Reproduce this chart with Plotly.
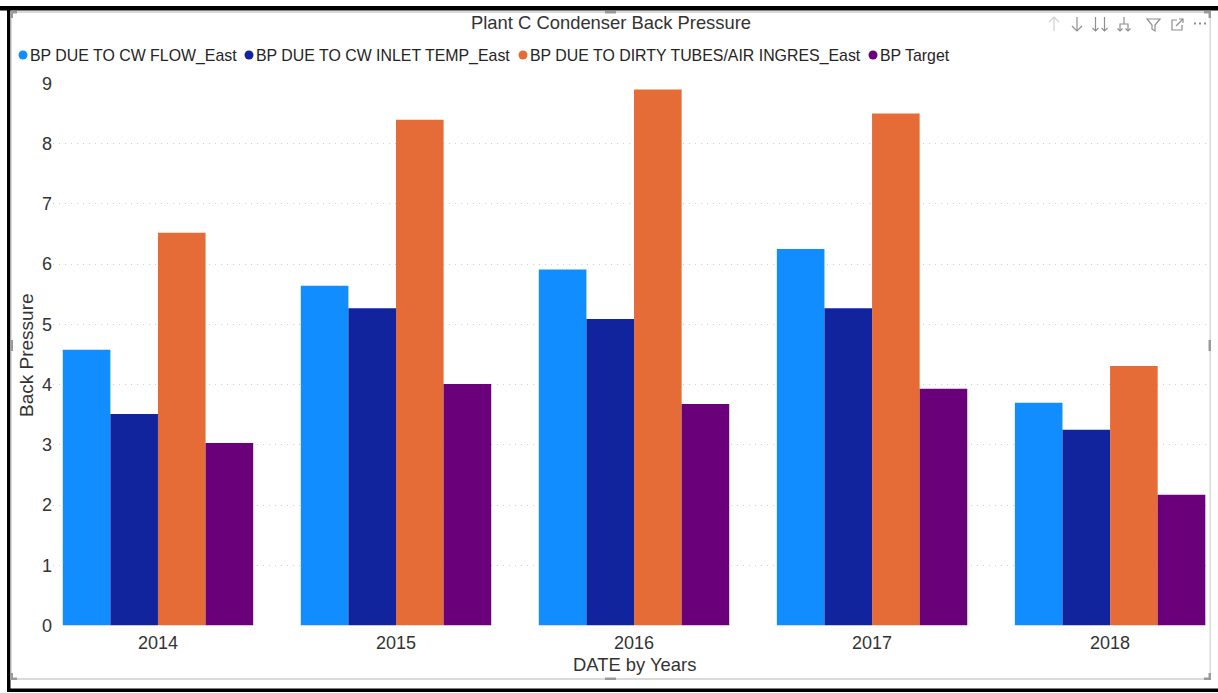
import plotly.graph_objects as go

W, H = 1218, 693

years = ["2014", "2015", "2016", "2017", "2018"]
cw_flow = [4.58, 5.64, 5.91, 6.25, 3.70]
cw_inlet = [3.51, 5.27, 5.09, 5.27, 3.25]
dirty_tubes = [6.52, 8.40, 8.90, 8.50, 4.31]
bp_target = [3.03, 4.01, 3.68, 3.93, 2.17]

series_names = [
    "BP DUE TO CW FLOW_East",
    "BP DUE TO CW INLET TEMP_East",
    "BP DUE TO DIRTY TUBES/AIR INGRES_East",
    "BP Target",
]
series_values = [cw_flow, cw_inlet, dirty_tubes, bp_target]
series_colors = ["#118DFF", "#12239E", "#E66C37", "#6B007B"]
legend_dot_x = [23, 249, 523, 873]

FONT = "Liberation Sans, Arial, sans-serif"
TEXT = "#333333"
FRAME = "#DADADA"
HANDLE = "#9A9A9A"
ICON_ON = "#8F8F8F"
ICON_OFF = "#D0D0D0"


def fx(px):
    return px / W


def fy(px):
    return 1 - px / H


def rect(x0, y0, x1, y1, color):
    return dict(type="rect", xref="paper", yref="paper", layer="above",
                x0=fx(x0), x1=fx(x1), y0=fy(y0), y1=fy(y1),
                fillcolor=color, line_width=0)


def polyline(points, color, width=1.2, closed=False):
    d = " ".join(("M" if i == 0 else "L") + f"{fx(x):.5f},{fy(y):.5f}"
                 for i, (x, y) in enumerate(points))
    return dict(type="path", xref="paper", yref="paper", layer="above",
                path=d + (" Z" if closed else ""),
                line=dict(color=color, width=width))


def label(text, x, y, size, xanchor="center", color=TEXT, angle=0):
    return dict(text=text, x=fx(x), y=fy(y), xref="paper", yref="paper",
                xanchor=xanchor, yanchor="middle", showarrow=False, textangle=angle,
                font=dict(family=FONT, size=size, color=color))


def arrow_down(cx, head=5, top=17, bottom=31, color=ICON_ON):
    return [polyline([(cx, top), (cx, bottom)], color),
            polyline([(cx - head, bottom - head), (cx, bottom), (cx + head, bottom - head)], color)]


fig = go.Figure()
for name, values, color in zip(series_names, series_values, series_colors):
    fig.add_bar(x=years, y=values, name=name, marker=dict(color=color, line_width=0))

shapes = []

# outer black rules and the light selection frame of the visual
shapes += [rect(0, 6, W, 10.5, "#000000"), rect(7, 6, 10.5, 692, "#000000"),
           rect(7, 688.5, W, 692, "#000000")]
shapes += [rect(10.5, 11, 1211, 13, FRAME), rect(10.5, 11, 12, 680, FRAME),
           rect(1209.5, 11, 1211, 680, FRAME), rect(10.5, 678, 1211, 680, FRAME)]

# resize handles at the corners and edge midpoints
shapes += [rect(10.5, 11, 17, 13.5, HANDLE), rect(10.5, 11, 13, 18, HANDLE),
           rect(1204, 11, 1211, 13.5, HANDLE), rect(1208.5, 11, 1211, 18, HANDLE),
           rect(10.5, 677.5, 17, 680, HANDLE), rect(10.5, 673, 13, 680, HANDLE),
           rect(1204, 677.5, 1211, 680, HANDLE), rect(1208.5, 673, 1211, 680, HANDLE),
           rect(605, 11, 616, 13.5, HANDLE), rect(605, 677.5, 616, 680, HANDLE),
           rect(10.5, 340, 13, 351, HANDLE), rect(1208.5, 340, 1211, 351, HANDLE)]

# visual header icons
shapes += [polyline([(1054, 17), (1054, 31)], ICON_OFF),
           polyline([(1049, 22), (1054, 17), (1059, 22)], ICON_OFF)]
shapes += arrow_down(1077)
shapes += arrow_down(1095.5, head=3) + arrow_down(1104.5, head=3)
shapes += [polyline([(1124, 17), (1124, 24)], ICON_ON),
           polyline([(1120, 31), (1120, 24), (1128, 24), (1128, 31)], ICON_ON),
           polyline([(1117.5, 28.5), (1120, 31), (1122.5, 28.5)], ICON_ON),
           polyline([(1125.5, 28.5), (1128, 31), (1130.5, 28.5)], ICON_ON)]
shapes += [polyline([(1147, 19), (1160, 19), (1155, 25), (1155, 31), (1152, 29), (1152, 25)],
                    ICON_ON, closed=True)]
shapes += [polyline([(1177, 20), (1172, 20), (1172, 30), (1182, 30), (1182, 25)], ICON_ON),
           polyline([(1176, 26), (1183, 19)], ICON_ON),
           polyline([(1179, 19), (1183, 19), (1183, 23)], ICON_ON)]
for cx in (1195, 1200, 1205):
    shapes.append(rect(cx - 1, 22.5, cx + 1, 24.5, ICON_ON))

# legend dots
for cx, color in zip(legend_dot_x, series_colors):
    shapes.append(dict(type="circle", xref="paper", yref="paper", layer="above",
                       x0=fx(cx - 4.5), x1=fx(cx + 4.5), y0=fy(55 - 4.5), y1=fy(55 + 4.5),
                       fillcolor=color, line_width=0))

annotations = [label("Plant C Condenser Back Pressure", 611, 22, 18.4),
               label("DATE by Years", 634, 664, 18.4),
               label("Back Pressure", 26, 355, 19, angle=-90)]
for name, cx in zip(series_names, legend_dot_x):
    annotations.append(label(name, cx + 5, 55.5, 15.9, xanchor="left", color="#252423"))

fig.update_layout(
    template="none",
    width=W, height=H, autosize=False,
    margin=dict(l=0, r=0, t=0, b=0),
    paper_bgcolor="white", plot_bgcolor="white",
    barmode="group", bargap=0.2, bargroupgap=0,
    showlegend=False,
    shapes=shapes, annotations=annotations,
    font=dict(family=FONT, color=TEXT),
    xaxis=dict(domain=[fx(53), fx(1206)], type="category", range=[-0.441, 4.403],
               automargin=False, showgrid=False, zeroline=False, showline=False, ticks="",
               ticklabelstandoff=4,
               tickfont=dict(family=FONT, size=18, color=TEXT)),
    yaxis=dict(domain=[fy(625.5), fy(83.5)], range=[0, 9], tickmode="array",
               tickvals=list(range(10)), automargin=False,
               showline=False, zeroline=False, ticks="",
               showgrid=True, gridcolor="#CFCFCF", griddash="1px,5px", gridwidth=1,
               tickfont=dict(family=FONT, size=18, color=TEXT)),
)

fig.write_html("out.html", config=dict(displayModeBar=False))
